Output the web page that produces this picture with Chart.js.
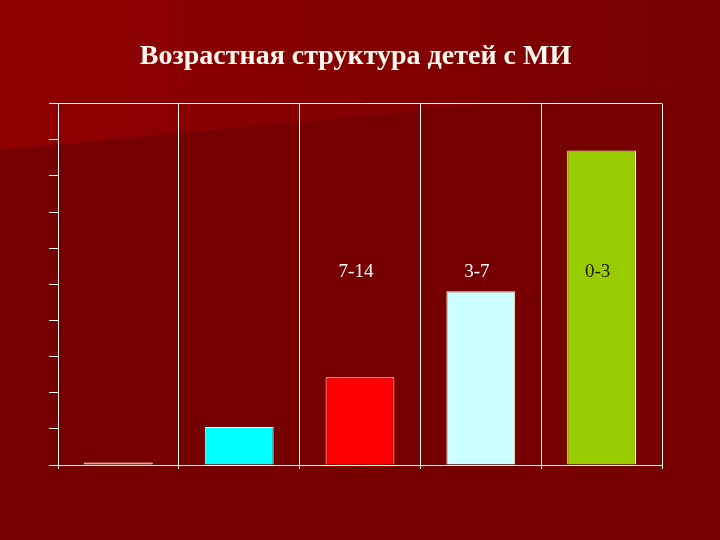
<!DOCTYPE html>
<html>
<head>
<meta charset="utf-8">
<script src="https://cdn.jsdelivr.net/npm/chart.js@4"></script>
<style>
  html, body { margin: 0; padding: 0; background: #760000; }
  #wrap { width: 720px; height: 540px; }
</style>
</head>
<body>
<div id="wrap"><canvas id="grafico"></canvas></div>
<script>
// datos
const categorias = ['', '', '7-14', '3-7', '0-3'];
const valores = [0.7, 10.5, 24.3, 48.1, 87.0];
const colores = ['#f7dc9c', '#00ffff', '#ff0000', '#ccffff', '#99cc00'];
const colorEtiqueta = ['#ffffff', '#ffffff', '#ffffff', '#ffffff', '#1a1a00'];
const ejeMax = 100;
const ejePaso = 10;
const alturaEtiqueta = 53.5; // en unidades del eje y

const fondo = {
    id: 'fondo',
    beforeDraw(chart) {
        const ctx = chart.ctx;
        const w = chart.width, h = chart.height;
        ctx.save();
        ctx.fillStyle = '#760000';
        ctx.fillRect(0, 0, w, h);
        const g = ctx.createLinearGradient(0, 0, w, 0);
        g.addColorStop(0, '#900000');
        g.addColorStop(0.5, '#840000');
        g.addColorStop(1, '#780000');
        ctx.fillStyle = g;
        ctx.beginPath();
        ctx.moveTo(0, 0);
        ctx.lineTo(w, 0);
        ctx.lineTo(w, 82);
        ctx.lineTo(0, 150);
        ctx.closePath();
        ctx.fill();
        ctx.restore();
    }
};

const etiquetas = {
    id: 'etiquetas',
    afterDatasetsDraw(chart) {
        const ctx = chart.ctx;
        const x = chart.scales.x, y = chart.scales.y;
        ctx.save();
        ctx.font = '19px "Liberation Serif", "Times New Roman", serif';
        ctx.textAlign = 'center';
        ctx.textBaseline = 'middle';
        categorias.forEach((c, i) => {
            if (!c) return;
            ctx.fillStyle = colorEtiqueta[i];
            ctx.fillText(c, x.getPixelForValue(i) - 4, y.getPixelForValue(alturaEtiqueta));
        });
        ctx.restore();
    }
};

const ctx = document.getElementById('grafico').getContext('2d');
new Chart(ctx, {
    type: 'bar',
    data: {
        labels: categorias,
        datasets: [{
            data: valores,
            backgroundColor: colores,
            borderColor: '#fff4e0',
            borderWidth: 1,
            barPercentage: 0.57,
            categoryPercentage: 1
        }]
    },
    options: {
        responsive: true,
        maintainAspectRatio: false,
        animation: false,
        layout: { padding: { left: 49, right: 58, top: 30, bottom: 71 } },
        plugins: {
            legend: { display: false },
            tooltip: { enabled: false },
            title: {
                display: true,
                text: 'Возрастная структура детей с МИ',
                color: '#fff8ee',
                font: { family: '"Liberation Serif", "Times New Roman", serif', size: 28, weight: 'bold' },
                padding: { top: 10, bottom: 30 }
            }
        },
        scales: {
            x: {
                ticks: { display: false },
                grid: {
                    offset: true,
                    color: '#ffffff',
                    tickColor: '#ffffff',
                    tickLength: 4,
                    lineWidth: 1
                },
                border: { color: '#ffffff', width: 1 }
            },
            y: {
                min: 0,
                max: ejeMax,
                ticks: { display: false, stepSize: ejePaso },
                grid: {
                    color: c => (c.tick && c.tick.value === ejeMax) ? '#ffffff' : 'transparent',
                    tickColor: '#ffffff',
                    tickLength: 9,
                    lineWidth: 1
                },
                border: { color: '#ffffff', width: 1 }
            }
        }
    },
    plugins: [fondo, etiquetas]
});
</script>
</body>
</html>
